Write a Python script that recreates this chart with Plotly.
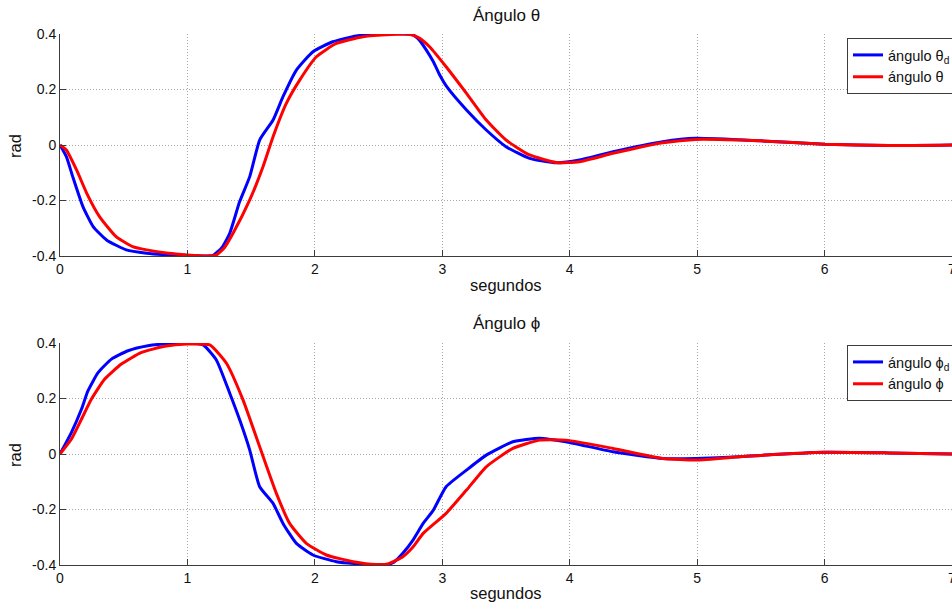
import plotly.graph_objects as go

# --- Ángulo θ (top panel) ---
t_theta_d = [0, 0.05, 0.10, 0.18, 0.26, 0.365, 0.52, 0.68, 0.85, 1.0, 1.15, 1.20, 1.27, 1.332,
             1.41, 1.489, 1.567, 1.672, 1.75, 1.855, 1.985, 2.14, 2.325, 2.54, 2.70, 2.77, 2.82,
             2.875, 2.93, 2.98, 3.035, 3.19, 3.345, 3.50, 3.685, 3.894, 4.077, 4.34, 4.73, 4.99,
             5.5, 6.0, 6.5, 7.0]
theta_d = [0, -0.042, -0.114, -0.222, -0.294, -0.342, -0.378, -0.39, -0.396, -0.398, -0.40, -0.398,
           -0.37, -0.318, -0.204, -0.114, 0.018, 0.090, 0.174, 0.270, 0.336, 0.372, 0.393, 0.40,
           0.40, 0.397, 0.378, 0.342, 0.30, 0.252, 0.21, 0.126, 0.054, -0.006, -0.048, -0.064,
           -0.054, -0.024, 0.012, 0.024, 0.015, 0.003, -0.002, 0.0]

t_theta = [0, 0.05, 0.13, 0.21, 0.31, 0.44, 0.57, 0.68, 0.85, 1.0, 1.15, 1.227, 1.29, 1.358, 1.489,
           1.593, 1.672, 1.776, 1.881, 2.012, 2.169, 2.377, 2.60, 2.74, 2.82, 2.90, 3.03, 3.19,
           3.345, 3.50, 3.685, 3.894, 4.077, 4.34, 4.73, 4.99, 5.5, 6.0, 6.5, 7.0]
theta = [0, -0.018, -0.09, -0.174, -0.258, -0.33, -0.366, -0.378, -0.39, -0.396, -0.40, -0.396,
         -0.37, -0.318, -0.198, -0.078, 0.030, 0.150, 0.234, 0.318, 0.366, 0.39, 0.398, 0.399,
         0.385, 0.354, 0.282, 0.186, 0.09, 0.018, -0.036, -0.063, -0.06, -0.03, 0.008, 0.02,
         0.015, 0.003, -0.002, 0.0]

# --- Ángulo ϕ (bottom panel) ---
t_phi_d = [0, 0.09, 0.169, 0.22, 0.30, 0.404, 0.534, 0.69, 0.86, 1.0, 1.123, 1.227, 1.332, 1.41,
           1.489, 1.567, 1.672, 1.75, 1.855, 1.985, 2.169, 2.38, 2.54, 2.62, 2.69, 2.77, 2.85,
           2.93, 3.03, 3.19, 3.345, 3.554, 3.763, 3.97, 4.34, 4.73, 4.99, 5.33, 5.5, 6.0, 6.5, 7.0]
phi_d = [0, 0.078, 0.162, 0.228, 0.294, 0.342, 0.372, 0.39, 0.398, 0.399, 0.393, 0.339, 0.219,
         0.123, 0.014, -0.118, -0.178, -0.25, -0.322, -0.364, -0.388, -0.397, -0.40, -0.39,
         -0.358, -0.31, -0.25, -0.202, -0.118, -0.058, -0.004, 0.044, 0.057, 0.044, 0.008,
         -0.016, -0.016, -0.01, -0.005, 0.006, 0.004, 0.0]

t_phi = [0, 0.09, 0.169, 0.247, 0.351, 0.482, 0.64, 0.82, 1.0, 1.175, 1.306, 1.436, 1.567, 1.698,
         1.802, 1.933, 2.09, 2.30, 2.48, 2.58, 2.69, 2.77, 2.85, 3.03, 3.19, 3.345, 3.554, 3.763,
         3.97, 4.34, 4.73, 4.99, 5.33, 5.5, 6.0, 6.5, 7.0]
phi = [0, 0.054, 0.126, 0.198, 0.27, 0.324, 0.366, 0.388, 0.396, 0.393, 0.327, 0.195, 0.026,
       -0.142, -0.25, -0.322, -0.364, -0.388, -0.398, -0.395, -0.37, -0.335, -0.286, -0.214,
       -0.13, -0.046, 0.02, 0.05, 0.05, 0.02, -0.016, -0.022, -0.01, -0.005, 0.006, 0.004, 0.0]

y_ticks = [-0.4, -0.2, 0, 0.2, 0.4]
y_tick_text = ["-0.4", "-0.2", "0", "0.2", "0.4"]
x_ticks = [0, 1, 2, 3, 4, 5, 6, 7]

FONT = "Liberation Sans, Arial, sans-serif"
BLUE = "#0000ff"
RED = "#ff0000"
AXIS = "#3c3c3c"
INK = "#111111"
W, H = 952, 606
LEFT = 60

fig = go.Figure()

line_style = dict(width=3, shape="spline", smoothing=0.5)

fig.add_trace(go.Scatter(x=t_theta_d, y=theta_d, mode="lines", name="ángulo θ<sub>d</sub>",
                         line=dict(color=BLUE, **line_style), xaxis="x", yaxis="y", legend="legend"))
fig.add_trace(go.Scatter(x=t_theta, y=theta, mode="lines", name="ángulo θ",
                         line=dict(color=RED, **line_style), xaxis="x", yaxis="y", legend="legend"))
fig.add_trace(go.Scatter(x=t_phi_d, y=phi_d, mode="lines", name="ángulo ϕ<sub>d</sub>",
                         line=dict(color=BLUE, **line_style), xaxis="x2", yaxis="y2", legend="legend2"))
fig.add_trace(go.Scatter(x=t_phi, y=phi, mode="lines", name="ángulo ϕ",
                         line=dict(color=RED, **line_style), xaxis="x2", yaxis="y2", legend="legend2"))

# pixel rows of each panel (top, bottom)
top_rows = (34, 256)
bot_rows = (343, 565)


def dom(rows):
    return [1 - rows[1] / H, 1 - rows[0] / H]


axis_common = dict(
    showline=True, linecolor=AXIS, linewidth=1,
    ticks="inside", ticklen=6, tickcolor=AXIS, tickwidth=1,
    showgrid=True, gridcolor="#a8a8a8", griddash="1px,2px", gridwidth=1,
    zeroline=False, mirror=False,
    tickfont=dict(family=FONT, size=14, color=INK),
)

xaxis_style = dict(axis_common, range=[0, 7], tickmode="array", tickvals=x_ticks,
                   ticktext=[str(v) for v in x_ticks], ticklabeloverflow="allow")
yaxis_style = dict(axis_common, range=[-0.4, 0.4], tickmode="array", tickvals=y_ticks,
                   ticktext=y_tick_text)

plot_w = W - LEFT
legend_style = dict(
    bgcolor="white", bordercolor=AXIS, borderwidth=1,
    font=dict(family=FONT, size=14.5, color=INK),
    xanchor="left", yanchor="top", x=(847 - LEFT) / plot_w,
    tracegroupgap=0, itemwidth=30,
)

fig.update_layout(
    width=W, height=H,
    margin=dict(l=LEFT, r=0, t=0, b=0, autoexpand=False),
    paper_bgcolor="white", plot_bgcolor="white",
    xaxis=dict(xaxis_style, domain=[0, 1], anchor="y"),
    yaxis=dict(yaxis_style, domain=dom(top_rows), anchor="x"),
    xaxis2=dict(xaxis_style, domain=[0, 1], anchor="y2"),
    yaxis2=dict(yaxis_style, domain=dom(bot_rows), anchor="x2"),
    legend=dict(legend_style, y=1 - 38 / H),
    legend2=dict(legend_style, y=1 - 345 / H),
    showlegend=True,
)

label_font = dict(family=FONT, size=16.5, color=INK)
title_font = dict(family=FONT, size=17, color=INK)
cx = (506 - LEFT) / plot_w
annotations = [
    dict(text="Ángulo θ", x=cx, y=1 - 15 / H, font=title_font),
    dict(text="Ángulo ϕ", x=cx, y=1 - 323 / H, font=title_font),
    dict(text="segundos", x=cx, y=1 - 285 / H, font=label_font),
    dict(text="segundos", x=cx, y=1 - 593 / H, font=label_font),
    dict(text="rad", x=-45 / plot_w, y=1 - 146 / H, textangle=-90, font=label_font),
    dict(text="rad", x=-45 / plot_w, y=1 - 455 / H, textangle=-90, font=label_font),
]
for a in annotations:
    fig.add_annotation(xref="paper", yref="paper", showarrow=False,
                       xanchor="center", yanchor="middle", **a)

fig.write_html("out.html")
